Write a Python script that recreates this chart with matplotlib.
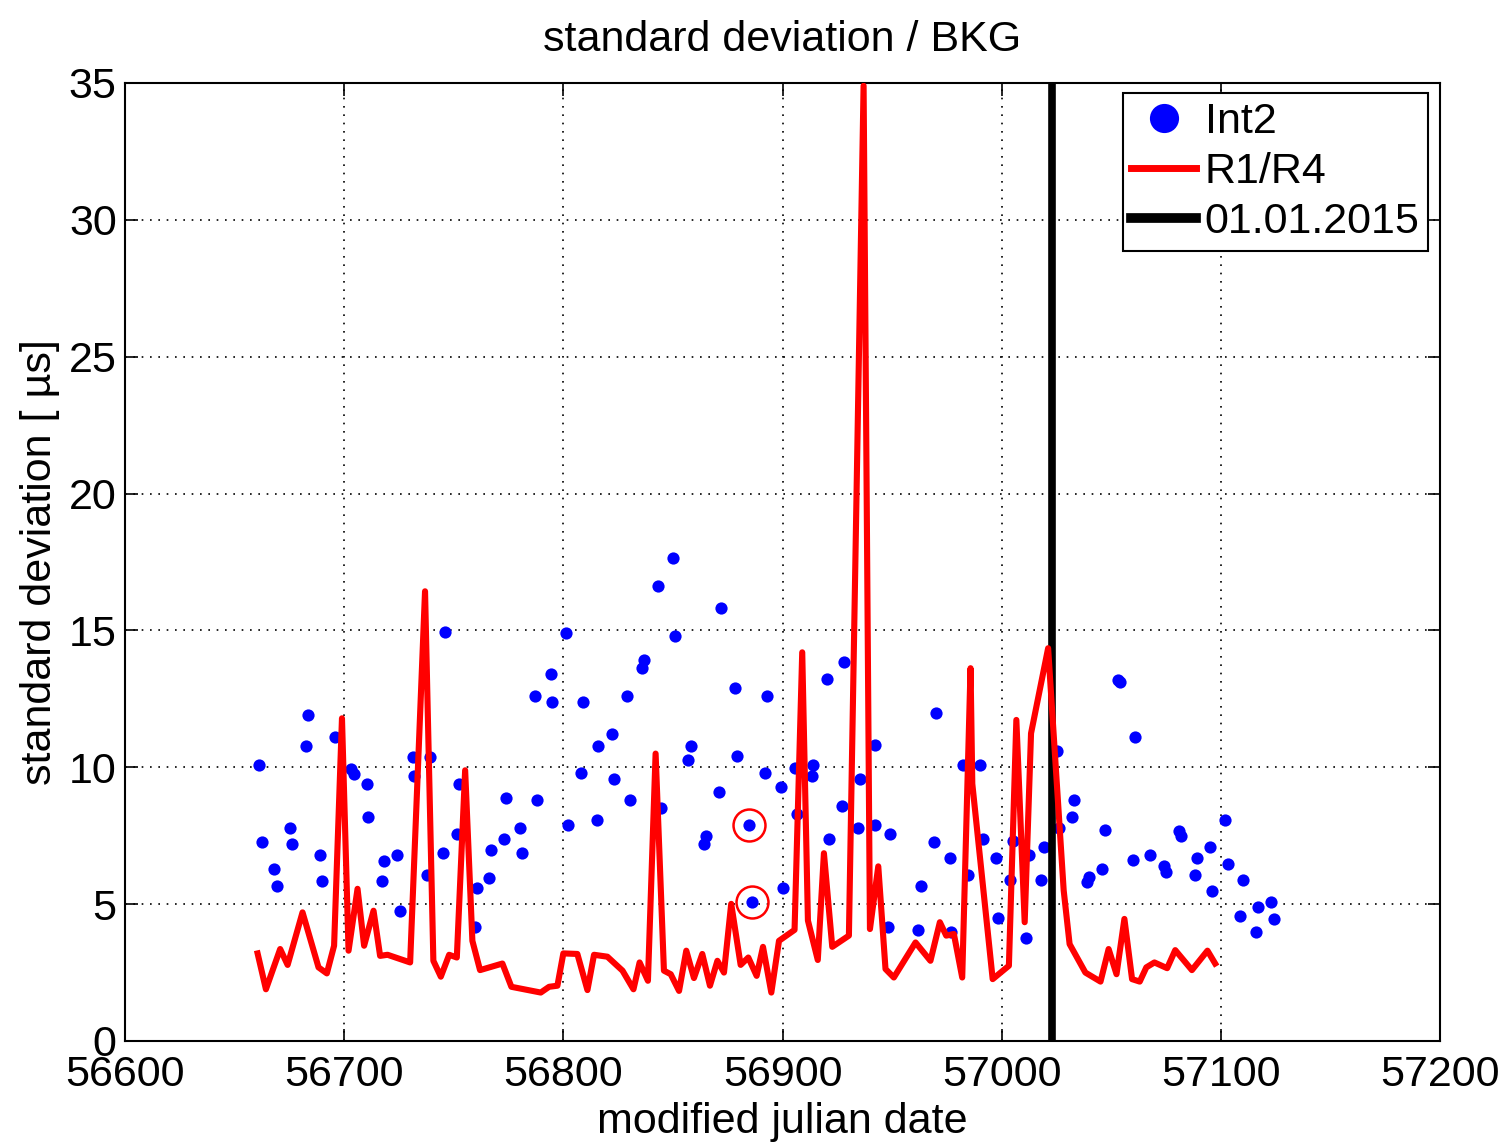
import matplotlib
matplotlib.use("Agg")
import matplotlib.pyplot as plt
from matplotlib.lines import Line2D

plt.rcParams['font.family'] = ['Liberation Sans', 'DejaVu Sans']

# Int2 (blue dots)
int2_mjd = [56661.2, 56662.3, 56668.1, 56669.3, 56675.4, 56676.2, 56682.4, 56683.3, 56689.0, 56690.1,
            56695.9, 56703.1, 56704.6, 56710.2, 56711.1, 56717.3, 56718.2, 56724.3, 56725.4, 56731.2,
            56731.9, 56737.7, 56739.1, 56745.1, 56746.2, 56751.7, 56752.4, 56759.9, 56760.4, 56766.1,
            56767.2, 56772.9, 56774.0, 56780.2, 56781.3, 56787.1, 56787.9, 56794.2, 56795.0, 56801.1,
            56802.1, 56808.2, 56809.1, 56815.2, 56816.0, 56822.0, 56823.1, 56828.9, 56830.3, 56836.0,
            56837.0, 56843.1, 56844.4, 56850.1, 56850.9, 56857.0, 56858.1, 56864.2, 56864.9, 56871.0,
            56871.8, 56878.2, 56879.4, 56884.9, 56885.9, 56892.0, 56893.0, 56899.1, 56900.2, 56905.5,
            56906.7, 56913.3, 56914.0, 56920.1, 56921.2, 56927.0, 56928.0, 56934.4, 56935.2, 56942.0,
            56942.3, 56948.2, 56949.0, 56961.9, 56963.0, 56969.0, 56969.9, 56976.2, 56976.9, 56982.4,
            56984.5, 56990.3, 56991.4, 56997.2, 56998.2, 57004.0, 57005.2, 57011.2, 57012.3, 57018.1,
            57019.2, 57025.3, 57026.0, 57032.1, 57032.9, 57039.0, 57039.7, 57045.8, 57047.0, 57053.0,
            57053.8, 57059.9, 57061.0, 57067.8, 57073.9, 57075.0, 57081.1, 57082.0, 57088.1, 57089.1,
            57094.9, 57096.0, 57102.0, 57103.1, 57108.9, 57110.1, 57115.9, 57117.0, 57123.0, 57124.1]
int2_std = [10.10, 7.27, 6.27, 5.68, 7.79, 7.18, 10.78, 11.91, 6.78, 5.86,
            11.09, 9.93, 9.77, 9.38, 8.18, 5.86, 6.57, 6.78, 4.76, 10.38,
            9.67, 6.08, 10.38, 6.88, 14.93, 7.57, 9.38, 4.15, 5.58, 5.96,
            6.99, 7.39, 8.89, 7.79, 6.88, 12.60, 8.79, 13.41, 12.40, 14.90,
            7.88, 9.80, 12.40, 8.09, 10.78, 11.21, 9.59, 12.60, 8.79, 13.62,
            13.92, 16.61, 8.51, 17.63, 14.80, 10.28, 10.78, 7.18, 7.49, 9.10,
            15.82, 12.91, 10.41, 7.90, 5.09, 9.80, 12.60, 9.28, 5.58, 9.98,
            8.28, 9.69, 10.10, 13.22, 7.38, 8.57, 13.83, 7.78, 9.59, 7.88,
            10.80, 4.15, 7.57, 4.06, 5.68, 7.27, 12.00, 6.68, 3.99, 10.10,
            6.08, 10.10, 7.38, 6.68, 4.48, 5.89, 7.29, 3.76, 6.78, 5.89,
            7.08, 10.59, 7.78, 8.18, 8.79, 5.80, 5.98, 6.29, 7.70, 13.20,
            13.10, 6.60, 11.11, 6.78, 6.39, 6.19, 7.67, 7.49, 6.07, 6.68,
            7.08, 5.47, 8.09, 6.47, 4.58, 5.89, 3.97, 4.88, 5.07, 4.46]

# R1/R4 (red line)
r1r4_mjd = [56660.5, 56664.3, 56670.8, 56674.2, 56681.0, 56688.3, 56692.1, 56695.4, 56699.0, 56702.0,
            56706.1, 56709.1, 56713.4, 56716.4, 56719.8, 56730.1, 56736.9, 56740.7, 56744.1, 56747.9,
            56751.4, 56755.2, 56758.5, 56762.0, 56772.2, 56776.3, 56789.7, 56793.5, 56797.3, 56800.0,
            56806.4, 56811.0, 56814.0, 56820.1, 56827.0, 56832.0, 56834.8, 56838.6, 56842.1, 56845.9,
            56849.0, 56852.8, 56856.1, 56859.6, 56863.4, 56866.9, 56870.3, 56873.3, 56876.6, 56880.9,
            56884.4, 56888.2, 56891.1, 56894.9, 56898.4, 56905.5, 56909.0, 56911.6, 56916.1, 56918.9,
            56922.7, 56930.3, 56937.0, 56939.9, 56943.7, 56947.0, 56950.8, 56960.7, 56967.5, 56971.8,
            56974.7, 56978.2, 56982.0, 56985.8, 56986.6, 56995.9, 57003.3, 57006.7, 57010.5, 57013.4,
            57021.2, 57028.3, 57031.0, 57038.2, 57045.1, 57048.8, 57052.4, 57056.0, 57059.5, 57063.0,
            57066.0, 57069.7, 57075.5, 57079.2, 57086.8, 57093.9, 57097.4]
r1r4_std = [3.20, 1.89, 3.36, 2.78, 4.70, 2.69, 2.47, 3.48, 11.79, 3.30,
            5.56, 3.48, 4.76, 3.11, 3.15, 2.87, 16.43, 2.93, 2.35, 3.15,
            3.05, 9.89, 3.66, 2.59, 2.83, 1.98, 1.77, 1.98, 2.02, 3.20,
            3.18, 1.86, 3.15, 3.08, 2.57, 1.89, 2.87, 2.20, 10.50, 2.57,
            2.44, 1.83, 3.30, 2.30, 3.18, 2.02, 2.93, 2.50, 5.01, 2.78,
            3.05, 2.38, 3.44, 1.77, 3.66, 4.06, 14.20, 4.40, 2.96, 6.86,
            3.44, 3.85, 34.90, 4.09, 6.38, 2.63, 2.32, 3.60, 2.93, 4.34,
            3.85, 3.91, 2.32, 13.62, 9.40, 2.26, 2.75, 11.73, 4.34, 11.24,
            14.35, 5.50, 3.54, 2.50, 2.17, 3.36, 2.44, 4.46, 2.26, 2.17,
            2.69, 2.87, 2.66, 3.32, 2.59, 3.30, 2.83]

marker_mjd = 57023
circled_mjd = [56884.9, 56885.9]
circled_std = [7.90, 5.09]

x_ticks = [56600, 56700, 56800, 56900, 57000, 57100, 57200]
y_ticks = [0, 5, 10, 15, 20, 25, 30, 35]

fig = plt.figure(figsize=(15.09, 11.46), dpi=100)
ax = fig.add_axes([125/1509, 1 - 1041/1146, (1440 - 125)/1509, (1041 - 83)/1146])

ax.plot(int2_mjd, int2_std, 'o', color='#0000ff', markersize=8.8, markeredgewidth=0, zorder=2)
ax.axvline(marker_mjd, color='black', linewidth=5.5, zorder=3)
ax.plot(r1r4_mjd, r1r4_std, '-', color='#ff0000', linewidth=4.4, zorder=4)
ax.plot(circled_mjd, circled_std, 'o', markersize=23, markerfacecolor='none',
        markeredgecolor='#ff0000', markeredgewidth=1.8, zorder=5)

ax.set_xlim(56600, 57200)
ax.set_ylim(0, 35)
ax.set_xticks(x_ticks)
ax.set_yticks(y_ticks)
ax.set_xticklabels([str(t) for t in x_ticks])
ax.set_yticklabels([str(t) for t in y_ticks])
ax.tick_params(direction='in', length=9, width=1.2, top=True, right=True, labelsize=31)
ax.tick_params(axis='x', pad=10)
ax.tick_params(axis='y', pad=6)
ax.grid(True, color='black', linestyle=(0, (1, 4)), linewidth=1.2)
for s in ax.spines.values():
    s.set_linewidth(1.5)

ax.set_title('standard deviation / BKG', fontsize=31, pad=23)
ax.set_xlabel('modified julian date', fontsize=31, labelpad=5)
ax.set_ylabel('standard deviation [ µs]', fontsize=31, labelpad=6)

handles = [
    Line2D([], [], linestyle='none', marker='o', color='#0000ff', markersize=21, markeredgewidth=0),
    Line2D([], [], color='#ff0000', linewidth=5),
    Line2D([], [], color='black', linewidth=7),
]
leg = ax.legend(handles, ['Int2', 'R1/R4', '01.01.2015'], loc='upper right',
                bbox_to_anchor=(1428/1509, 1 - 93/1146), bbox_transform=fig.transFigure,
                borderaxespad=0, fontsize=31, handlelength=1.5, handletextpad=0.2,
                labelspacing=0.24, borderpad=0.2, fancybox=False, framealpha=1,
                edgecolor='black')
leg.get_frame().set_linewidth(1.5)

fig.savefig('out.png', dpi=100, facecolor='white')
